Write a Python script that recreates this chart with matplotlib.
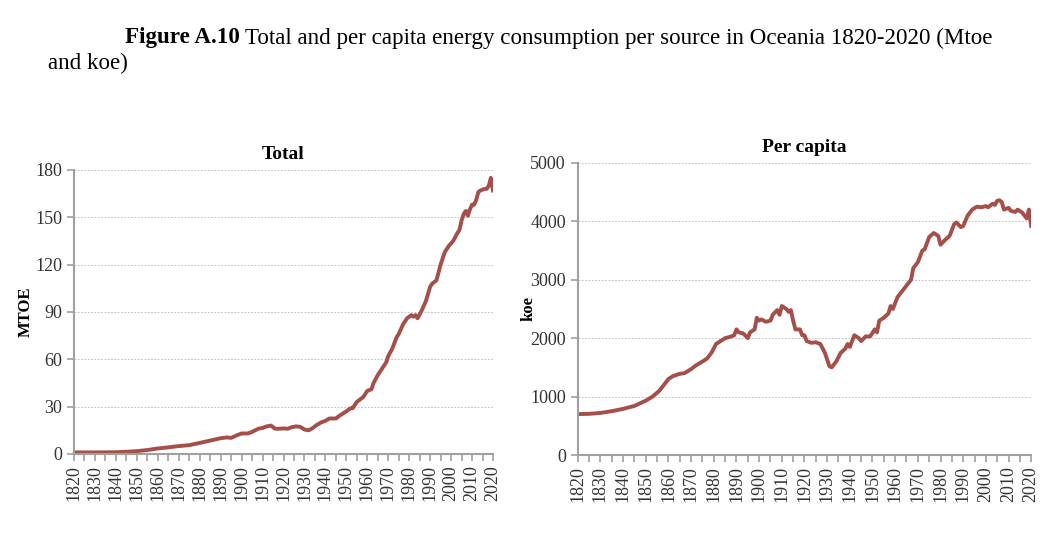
import matplotlib
matplotlib.use("Agg")
import matplotlib.pyplot as plt
from matplotlib.ticker import MultipleLocator

total_years = [1820, 1830, 1840, 1845, 1850, 1855, 1860, 1865, 1870, 1875, 1880, 1885, 1890, 1893, 1895,
               1898, 1900, 1903, 1905, 1908, 1910, 1912, 1914, 1916, 1918, 1920, 1922, 1924, 1926, 1928,
               1930, 1932, 1934, 1936, 1938, 1940, 1942, 1945, 1947, 1950, 1952, 1953, 1955, 1958, 1960,
               1962, 1963, 1965, 1967, 1969, 1970, 1972, 1974, 1975, 1977, 1979, 1981, 1982, 1983, 1984,
               1986, 1988, 1990, 1991, 1993, 1995, 1997, 1999, 2001, 2003, 2004, 2005, 2006, 2007, 2008,
               2009, 2010, 2011, 2012, 2013, 2014, 2016, 2017, 2018, 2019, 2020]
total_mtoe = [1.0, 1.0, 1.1, 1.4, 1.8, 2.5, 3.5, 4.2, 5.0, 5.6, 7.0, 8.5, 10.0, 10.5, 10.2,
              12.0, 13.0, 13.0, 14.0, 16.0, 16.5, 17.5, 18.0, 16.0, 16.0, 16.2, 16.0, 17.0, 17.5, 17.2,
              15.5, 15.0, 16.5, 18.5, 20.0, 21.0, 22.5, 22.5, 24.5, 27.0, 29.0, 29.0, 33.0, 36.0, 40.0,
              41.0, 45.0, 50.0, 54.0, 58.0, 62.0, 67.0, 74.0, 76.0, 82.0, 86.0, 88.0, 87.0, 88.0, 86.0,
              91.0, 97.0, 106.0, 108.0, 110.0, 120.0, 128.0, 132.0, 135.0, 140.0, 142.0, 148.0, 152.0, 154.0, 151.0,
              155.0, 158.0, 158.0, 161.0, 166.0, 167.0, 168.0, 168.0, 170.0, 175.0, 167.0]

pc_years = [1820, 1825, 1830, 1835, 1840, 1845, 1850, 1853, 1856, 1858, 1860, 1862, 1865, 1867, 1870,
            1872, 1875, 1877, 1879, 1881, 1883, 1885, 1887, 1889, 1890, 1891, 1893, 1895, 1896, 1898,
            1899, 1900, 1901, 1903, 1905, 1906, 1908, 1909, 1910, 1912, 1913, 1914, 1915, 1916, 1918,
            1919, 1920, 1921, 1923, 1925, 1927, 1929, 1931, 1932, 1934, 1936, 1938, 1939, 1940, 1942,
            1944, 1945, 1947, 1949, 1951, 1952, 1953, 1955, 1957, 1958, 1959, 1961, 1963, 1965, 1967,
            1968, 1970, 1972, 1973, 1975, 1977, 1979, 1980, 1982, 1984, 1986, 1987, 1989, 1990, 1992,
            1994, 1996, 1998, 2000, 2001, 2003, 2004, 2005, 2006, 2007, 2008, 2010, 2011, 2013, 2014,
            2016, 2017, 2018, 2019, 2020]
pc_koe = [700, 705, 720, 750, 790, 840, 930, 1000, 1100, 1200, 1300, 1350, 1390, 1400, 1470,
          1530, 1600, 1650, 1750, 1900, 1950, 2000, 2020, 2050, 2150, 2100, 2080, 2000, 2100, 2150,
          2350, 2300, 2320, 2280, 2300, 2400, 2480, 2400, 2550, 2500, 2450, 2480, 2300, 2150, 2150,
          2050, 2050, 1950, 1920, 1930, 1900, 1750, 1520, 1500, 1600, 1750, 1820, 1900, 1850, 2050,
          2000, 1950, 2030, 2030, 2150, 2100, 2300, 2350, 2420, 2550, 2500, 2700, 2800, 2900, 3000,
          3200, 3300, 3500, 3520, 3730, 3800, 3750, 3600, 3680, 3750, 3950, 3980, 3900, 3920, 4100,
          4200, 4250, 4240, 4260, 4240, 4300, 4280, 4350, 4360, 4330, 4200, 4230, 4180, 4160, 4200,
          4150, 4100, 4050, 4200, 3920]

line_color = "#A44F49"
serif = ["Liberation Serif", "DejaVu Serif"]

fig = plt.figure(figsize=(10.62, 5.42), dpi=100)

t1 = fig.text(125 / 1062, 1 - 38 / 542, "Figure A.10", fontsize=16.6, fontweight="bold",
              family=serif, va="center", ha="left")
fig.canvas.draw()
bb = t1.get_window_extent(renderer=fig.canvas.get_renderer())
x_after = (bb.x1 + 5) / fig.bbox.width
fig.text(x_after, 1 - 38 / 542,
         "Total and per capita energy consumption per source in Oceania 1820-2020 (Mtoe",
         fontsize=16.6, family=serif, va="center", ha="left")
fig.text(48 / 1062, 1 - 63 / 542, "and koe)", fontsize=16.6, family=serif, va="center", ha="left")


def style_axes(ax, ymax, ystep, ylabel, title):
    ax.set_xlim(1820, 2020)
    ax.set_ylim(0, ymax)
    ax.yaxis.set_major_locator(MultipleLocator(ystep))
    ax.xaxis.set_major_locator(MultipleLocator(10))
    ax.xaxis.set_minor_locator(MultipleLocator(5))
    ax.grid(axis="y", linestyle=(0, (2, 2)), color="#b5b5b5", linewidth=0.6)
    ax.set_axisbelow(True)
    for s in ["top", "right"]:
        ax.spines[s].set_visible(False)
    for s in ["left", "bottom"]:
        ax.spines[s].set_color("#a0a0a0")
        ax.spines[s].set_linewidth(1.5)
    ax.tick_params(axis="x", which="both", direction="out", length=5, width=1.2, color="#a0a0a0",
                   labelrotation=90, labelsize=13, pad=3)
    ax.tick_params(axis="y", direction="out", length=5, width=1.2, color="#a0a0a0", labelsize=13)
    for lab in ax.get_xticklabels() + ax.get_yticklabels():
        lab.set_family(serif)
        lab.set_color("#333333")
    ax.set_ylabel(ylabel, fontsize=12, fontweight="bold", family=serif)
    ax.set_title(title, fontsize=14, fontweight="bold", family=serif, pad=8)


ax1 = fig.add_axes([0.0697, 0.1624, 0.3945, 0.524])
ax1.plot(total_years, total_mtoe, color=line_color, linewidth=2.8, solid_joinstyle="round")
style_axes(ax1, 180, 30, "MTOE", "Total")
ax1.yaxis.set_label_coords(-0.095, 0.5)

ax2 = fig.add_axes([0.544, 0.1605, 0.427, 0.539])
ax2.plot(pc_years, pc_koe, color=line_color, linewidth=2.8, solid_joinstyle="round")
style_axes(ax2, 5000, 1000, "koe", "Per capita")
ax2.yaxis.set_label_coords(-0.09, 0.5)

fig.savefig("out.png", dpi=100)
